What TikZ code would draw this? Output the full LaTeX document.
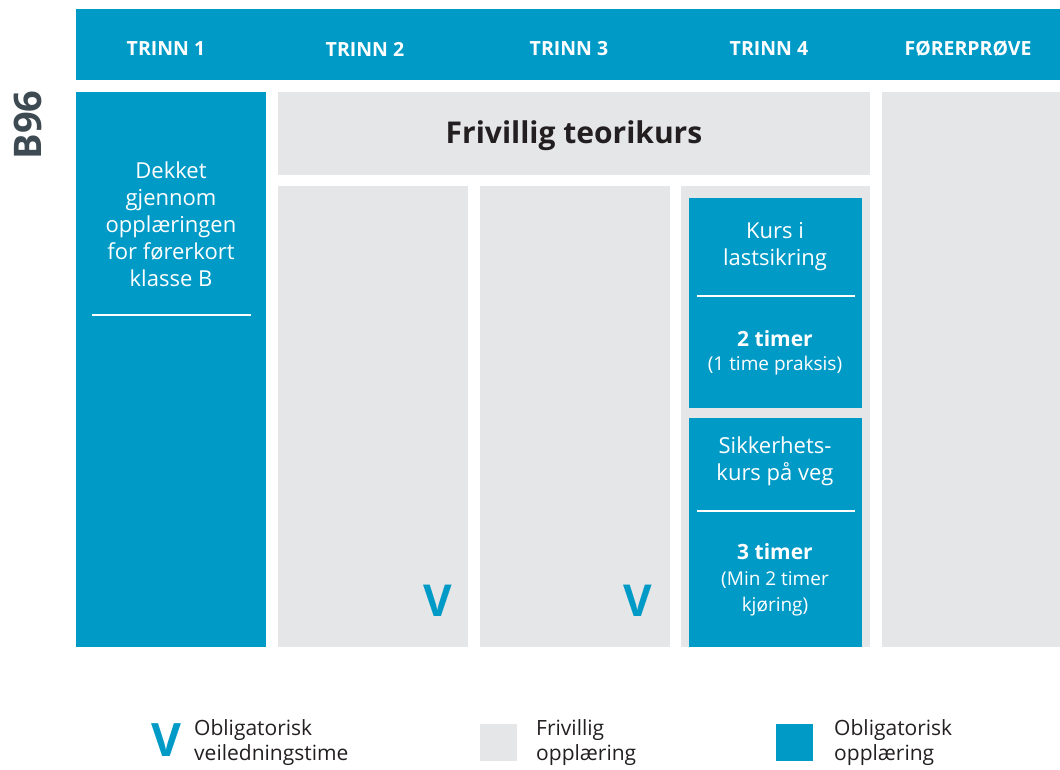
\documentclass[tikz,border=0pt]{standalone}
\usepackage{fontspec}
\setmainfont{Open Sans}
\definecolor{blu}{HTML}{009AC7}
\definecolor{gry}{HTML}{E5E6E8}
\definecolor{dark}{HTML}{3D4A52}
\definecolor{txt}{HTML}{231F20}
\begin{document}
\begin{tikzpicture}[x=1pt,y=-1pt,
  head/.style={text=white,font=\fontsize{19.5}{22}\selectfont\bfseries},
  body/.style={text=white,align=center,font=\fontsize{22}{27}\selectfont},
  small/.style={text=white,align=center,font=\fontsize{19}{26}\selectfont},
  bold/.style={text=white,font=\fontsize{21}{24}\selectfont\bfseries},
  vee/.style={text=blu,font=\fontsize{44}{44}\selectfont\bfseries,inner sep=0pt},
  leg/.style={anchor=west,align=left,text=txt,font=\fontsize{21}{25}\selectfont,inner sep=0pt},
  wline/.style={draw=white,line width=2.5pt}]
\useasboundingbox (0,0) rectangle (1060,770);
% header
\fill[blu] (76,9) rectangle (1060,80);
\node[head] (h1) at (166,49) {TRINN 1};
\node[head] (h2) at (365,49) {TRINN 2};
\node[head] (h3) at (569,49) {TRINN 3};
\node[head] (h4) at (769,49) {TRINN 4};
\node[head] (h5) at (968,49) {FØRERPRØVE};
% B96
\node[rotate=90,text=dark,font=\fontsize{38}{38}\selectfont\bfseries] (b96) at (28,125) {B96};
% trinn 1
\fill[blu] (76,92) rectangle (266,647);
\node[body] (t1) at (171,224) {Dekket\\gjennom\\opplæringen\\for førerkort\\klasse B};
\draw[wline] (92,315) -- (251,315);
% frivillig teorikurs
\fill[gry] (278,92) rectangle (870,175);
\node[text=txt,font=\fontsize{30}{32}\selectfont\bfseries] (ft) at (574,136) {Frivillig teorikurs};
% columns
\fill[gry] (278,186) rectangle (468,647);
\fill[gry] (480,186) rectangle (670,647);
\fill[gry] (681,186) rectangle (870,647);
\fill[gry] (882,92) rectangle (1060,647);
\node[vee] (v2) at (438,601) {V};
\node[vee] (v3) at (638,601) {V};
% trinn 4 boxes
\fill[blu] (689,198) rectangle (862,408);
\node[body] (k1) at (775,247) {Kurs i\\lastsikring};
\draw[wline] (697,296) -- (855,296);
\node[bold] (k2) at (775,339) {2 timer};
\node[small] (k3) at (775,366) {(1 time praksis)};
\fill[blu] (689,418) rectangle (862,647);
\node[body] (s1) at (775,461) {Sikkerhets-\\kurs på veg};
\draw[wline] (697,511) -- (855,511);
\node[bold] (s2) at (775,552) {3 timer};
\node[small] (s3) at (775,594) {(Min 2 timer\\kjøring)};
% legend
\node[vee,font=\fontsize{46}{46}\selectfont\bfseries] (lv) at (166,740) {V};
\node[leg] (l1) at (194,743) {Obligatorisk\\veiledningstime};
\fill[gry] (480,724) rectangle (517,761);
\node[leg] (l2) at (536,743) {Frivillig\\opplæring};
\fill[blu] (776,724) rectangle (813,761);
\node[leg] (l3) at (834,743) {Obligatorisk\\opplæring};
\end{tikzpicture}
\end{document}
